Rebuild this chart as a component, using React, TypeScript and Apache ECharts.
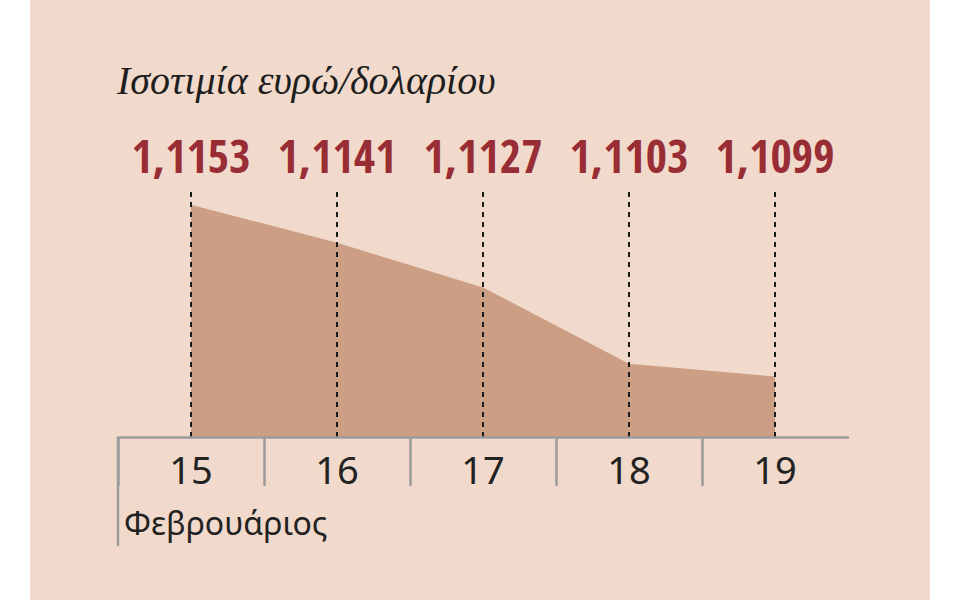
import * as echarts from 'echarts';
import React, { useEffect, useRef } from 'react';

const days = ['15', '16', '17', '18', '19'];
const rates = [1.1153, 1.1141, 1.1127, 1.1103, 1.1099];
const title = 'Ισοτιμία ευρώ/δολαρίου';
const monthLabel = 'Φεβρουάριος';

const PANEL = '#F1DACB';
const AREA = '#CC9E84';
const RED = '#992D35';
const GREY = '#9B9B9B';

const App: React.FC = () => {
  const chartRef = useRef<HTMLDivElement>(null);

  useEffect(() => {
    const myChart = echarts.init(chartRef.current!, null, { renderer: 'svg' });

    const option = {
      animation: false,
      backgroundColor: '#ffffff',
      graphic: [
        // beige panel
        { type: 'rect', z: -10, shape: { x: 30, y: 0, width: 900, height: 600 }, style: { fill: PANEL } },
        {
          type: 'text',
          left: 117,
          top: 60,
          style: {
            text: title,
            font: 'italic 40px "Liberation Serif"',
            fill: '#1e1e1e',
          },
        },
        {
          type: 'text',
          left: 124,
          top: 506,
          style: {
            text: monthLabel,
            font: '32px "Noto Sans"',
            fill: '#222222',
          },
        },
        // long left divider
        {
          type: 'line',
          shape: { x1: 118, y1: 437, x2: 118, y2: 546 },
          style: { stroke: GREY, lineWidth: 2.5 },
        },
      ],
      grid: [
        { left: 118, right: 112, top: 190, bottom: 163 },
        { left: 118, right: 112, top: 437, height: 49 },
      ],
      xAxis: [
        {
          type: 'category',
          gridIndex: 0,
          data: days,
          boundaryGap: true,
          axisLine: { lineStyle: { color: GREY, width: 2.5 } },
          axisTick: { show: false },
          axisLabel: {
            margin: 13,
            fontSize: 38,
            fontFamily: 'Noto Sans',
            color: '#222222',
          },
          z: 5,
        },
        {
          // value labels along the top
          type: 'category',
          gridIndex: 0,
          position: 'top',
          data: rates.map((v) => v.toFixed(4).replace('.', ',')),
          axisLine: { show: false },
          axisTick: { show: false },
          axisLabel: {
            interval: 0,
            hideOverlap: false,
            margin: 12,
            fontSize: 46,
            fontWeight: 'bold',
            fontFamily: '"Open Sans Condensed", "Roboto Condensed", sans-serif',
            color: RED,
          },
        },
        {
          // separators under the axis
          type: 'category',
          gridIndex: 1,
          data: days,
          axisLine: { show: false },
          axisTick: { show: false },
          axisLabel: { show: false },
          splitLine: {
            show: true,
            showMaxLine: false,
            lineStyle: { color: GREY, width: 2.5 },
          },
        },
      ],
      yAxis: [
        { type: 'value', gridIndex: 0, min: 1.108, max: 1.11576, show: false, splitLine: { show: false } },
        { type: 'value', gridIndex: 1, show: false, splitLine: { show: false } },
      ],
      series: [
        {
          type: 'line',
          xAxisIndex: 0,
          yAxisIndex: 0,
          data: rates,
          symbol: 'none',
          lineStyle: { width: 0 },
          areaStyle: { color: AREA, opacity: 1, origin: 'start' },
          silent: true,
          markLine: {
            silent: true,
            symbol: ['none', 'none'],
            label: { show: false },
            lineStyle: { type: [5, 5], color: '#1a1a1a', width: 2 },
            data: days.map((d) => ({ xAxis: d })),
          },
        },
      ],
    };

    myChart.setOption(option);

    return () => {
      myChart.dispose();
    };
  }, []);

  return (
    <div style={{ position: 'fixed', left: 0, top: 0, width: 960, height: 600, background: '#fff' }}>
      <div ref={chartRef} style={{ width: '960px', height: '600px' }} />
    </div>
  );
};

export default App;
